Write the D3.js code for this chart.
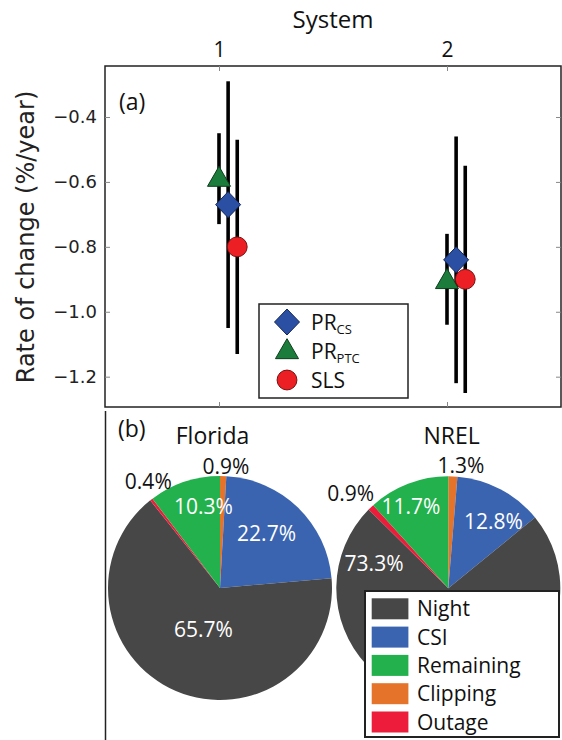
<!DOCTYPE html>
<html>
<head>
<meta charset="utf-8">
<script src="https://cdn.jsdelivr.net/npm/d3@7"></script>
<style>
  html, body { margin: 0; padding: 0; background: #fff; }
  svg { display: block; }
</style>
</head>
<body>
<svg id="chart" width="562" height="740"></svg>
<script>
// ---------------- DATA ----------------
const systems = [1, 2];
const seriesNames = ["PR_CS", "PR_PTC", "SLS"];
// value, lower, upper per system
const prCsValue  = [-0.67, -0.84];
const prCsLow    = [-1.05, -1.22];
const prCsHigh   = [-0.29, -0.46];
const prPtcValue = [-0.59, -0.905];
const prPtcLow   = [-0.73, -1.04];
const prPtcHigh  = [-0.45, -0.76];
const slsValue   = [-0.80, -0.90];
const slsLow     = [-1.13, -1.25];
const slsHigh    = [-0.47, -0.55];
const yTicks = [-0.4, -0.6, -0.8, -1.0, -1.2];

const pieCategories = ["Clipping", "CSI", "Night", "Outage", "Remaining"];
const floridaShares = [0.9, 22.7, 65.7, 0.4, 10.3];
const nrelShares    = [1.3, 12.8, 73.3, 0.9, 11.7];
const pieTitles = ["Florida", "NREL"];
const legendOrder = ["Night", "CSI", "Remaining", "Clipping", "Outage"];

// ---------------- STYLE / LAYOUT ----------------
const catColor = {
  Night: "#474747", CSI: "#3a63b0", Remaining: "#22b14c",
  Clipping: "#e6732a", Outage: "#ec1c3a"
};
const svg = d3.select("#chart");
svg.append("rect").attr("width", 562).attr("height", 740).attr("fill", "#fff");

const plotL = 105, plotR = 561, plotT = 66, plotB = 407;
const x = d3.scaleLinear().domain([0.5, 2.5]).range([plotL, plotR]);
const y = d3.scaleLinear().domain([-1.2934, -0.2429]).range([plotB, plotT]);
const tickFont = "DejaVu Sans, sans-serif";
const calFont = "'Open Sans', Lato, sans-serif";

// frame
svg.append("rect").attr("x", plotL).attr("y", plotT)
  .attr("width", plotR - plotL).attr("height", plotB - plotT)
  .attr("fill", "none").attr("stroke", "#222").attr("stroke-width", 1.5);

// axes (ticks inward)
const gTop = svg.append("g").attr("transform", `translate(0,${plotT})`)
  .call(d3.axisTop(x).tickValues(systems).tickSizeInner(-5).tickSizeOuter(0).tickPadding(9).tickFormat(d3.format("d")));
const gBot = svg.append("g").attr("transform", `translate(0,${plotB})`)
  .call(d3.axisBottom(x).tickValues(systems).tickSizeInner(-5).tickSizeOuter(0).tickFormat(""));
const gLeft = svg.append("g").attr("transform", `translate(${plotL},0)`)
  .call(d3.axisLeft(y).tickValues(yTicks).tickSizeInner(-5).tickSizeOuter(0).tickPadding(8).tickFormat(d3.format(".1f")));
const gRight = svg.append("g").attr("transform", `translate(${plotR},0)`)
  .call(d3.axisRight(y).tickValues(yTicks).tickSizeInner(-5).tickSizeOuter(0).tickFormat(""));
[gTop, gBot, gLeft, gRight].forEach(g => {
  g.select(".domain").remove();
  g.selectAll(".tick line").attr("stroke", "#888").attr("stroke-width", 1);
});
gTop.selectAll(".tick text").attr("font-family", calFont).attr("font-size", 21).attr("fill", "#111");
gLeft.selectAll(".tick text").attr("font-family", tickFont).attr("font-size", 18).attr("fill", "#222");

svg.append("text").attr("x", (x(1) + x(2)) / 2).attr("y", 28)
  .attr("text-anchor", "middle").attr("font-family", calFont).attr("font-size", 24)
  .attr("fill", "#111").text("System");

svg.append("text").attr("transform", `translate(34,237) rotate(-90)`)
  .attr("text-anchor", "middle").attr("font-family", tickFont).attr("font-size", 24)
  .attr("fill", "#222").text("Rate of change (%/year)");

svg.append("text").attr("x", 119).attr("y", 110).attr("font-family", calFont)
  .attr("font-size", 23).attr("fill", "#111").text("(a)");

// series definitions
const series = [
  { name: "PR_PTC", off: 0.0,  v: prPtcValue, lo: prPtcLow, hi: prPtcHigh, shape: "triangle", fill: "#1c7c3c", stroke: "#0d3d1c" },
  { name: "PR_CS",  off: 0.04, v: prCsValue,  lo: prCsLow,  hi: prCsHigh,  shape: "diamond",  fill: "#2b4fa2", stroke: "#14275a" },
  { name: "SLS",    off: 0.08, v: slsValue,   lo: slsLow,   hi: slsHigh,   shape: "circle",   fill: "#ec2024", stroke: "#7a1010" }
];
const symbolPath = {
  triangle: d3.symbol().type(d3.symbolTriangle).size(230)(),
  diamond: "M0,-13L12.5,0L0,13L-12.5,0Z",
  circle: d3.symbol().type(d3.symbolCircle).size(310)()
};

// error bars
series.forEach(s => {
  svg.append("g").selectAll("line").data(systems).join("line")
    .attr("x1", (d, i) => x(d + s.off)).attr("x2", (d, i) => x(d + s.off))
    .attr("y1", (d, i) => y(s.lo[i])).attr("y2", (d, i) => y(s.hi[i]))
    .attr("stroke", "#000").attr("stroke-width", 3.6);
});
// markers
series.forEach(s => {
  svg.append("g").selectAll("path").data(systems).join("path")
    .attr("d", symbolPath[s.shape])
    .attr("transform", (d, i) => `translate(${x(d + s.off)},${y(s.v[i]) + (s.shape === "triangle" ? 1 : 0)})`)
    .attr("fill", s.fill).attr("stroke", s.stroke).attr("stroke-width", 1);
});

// legend (a)
const lgA = svg.append("g");
lgA.append("rect").attr("x", 259).attr("y", 304).attr("width", 149).attr("height", 94)
  .attr("fill", "#fff").attr("stroke", "#222").attr("stroke-width", 1.5);
const legA = [
  { s: series[1], main: "PR", sub: "CS" },
  { s: series[0], main: "PR", sub: "PTC" },
  { s: series[2], main: "SLS", sub: "" }
];
legA.forEach((e, i) => {
  const cy = 322 + i * 29;
  lgA.append("path").attr("d", symbolPath[e.s.shape])
    .attr("transform", `translate(287,${cy + (e.s.shape === "triangle" ? 1 : 0)})`)
    .attr("fill", e.s.fill).attr("stroke", e.s.stroke).attr("stroke-width", 1);
  const t = lgA.append("text").attr("x", 311).attr("y", cy + 7.5)
    .attr("font-family", calFont).attr("font-size", 21).attr("fill", "#111");
  t.append("tspan").text(e.main);
  if (e.sub) t.append("tspan").attr("font-size", 13).attr("dy", 4).text(e.sub);
});

// ---------------- PANEL (b) ----------------
svg.append("line").attr("x1", 105.5).attr("x2", 105.5).attr("y1", 411).attr("y2", 740)
  .attr("stroke", "#222").attr("stroke-width", 1.5);
svg.append("text").attr("x", 118).attr("y", 437).attr("font-family", calFont)
  .attr("font-size", 23).attr("fill", "#111").text("(b)");

const pieR = 112;
const pieCenters = [[220, 588], [448.3, 588.3]];
const titleX = [212.5, 451.7];
// label placement: [angle in degrees clockwise from north, radius fraction]
const labelPlace = [
  [[2.8, 1.09], [40.5, 0.64], [201.7, 0.40], [326, 1.145], [348.4, 0.74]],
  [[5.9, 1.10], [34, 0.72], [288.7, 0.70], [314.2, 1.215], [335.4, 0.80]]
];
const pie = d3.pie().sort(null).value(d => d.v);
const arc = d3.arc().innerRadius(0).outerRadius(pieR);
[floridaShares, nrelShares].forEach((shares, p) => {
  const data = pieCategories.map((c, i) => ({ c, v: shares[i] }));
  const g = svg.append("g").attr("transform", `translate(${pieCenters[p][0]},${pieCenters[p][1]})`);
  g.selectAll("path").data(pie(data)).join("path")
    .attr("d", arc).attr("fill", d => catColor[d.data.c]);
  g.selectAll("text").data(pie(data)).join("text")
    .attr("x", (d, i) => Math.sin(labelPlace[p][i][0] * Math.PI / 180) * labelPlace[p][i][1] * pieR)
    .attr("y", (d, i) => -Math.cos(labelPlace[p][i][0] * Math.PI / 180) * labelPlace[p][i][1] * pieR)
    .attr("dy", "0.36em").attr("text-anchor", "middle")
    .attr("font-family", calFont).attr("font-size", 21)
    .attr("fill", (d, i) => labelPlace[p][i][1] > 1 ? "#111" : "#fff")
    .text(d => d3.format(".1f")(d.data.v) + "%");
  svg.append("text").attr("x", titleX[p]).attr("y", 444).attr("text-anchor", "middle")
    .attr("font-family", calFont).attr("font-size", 23).attr("fill", "#111").text(pieTitles[p]);
});

// legend (b)
const lgB = svg.append("g");
lgB.append("rect").attr("x", 365).attr("y", 591).attr("width", 194).attr("height", 146)
  .attr("fill", "#fff").attr("stroke", "#222").attr("stroke-width", 2);
legendOrder.forEach((c, i) => {
  const yy = 598.3 + i * 28.3;
  lgB.append("rect").attr("x", 371.7).attr("y", yy).attr("width", 36.7).attr("height", 21)
    .attr("fill", catColor[c]);
  lgB.append("text").attr("x", 417).attr("y", yy + 18).attr("font-family", calFont)
    .attr("font-size", 21).attr("fill", "#111").text(c);
});
</script>
</body>
</html>
